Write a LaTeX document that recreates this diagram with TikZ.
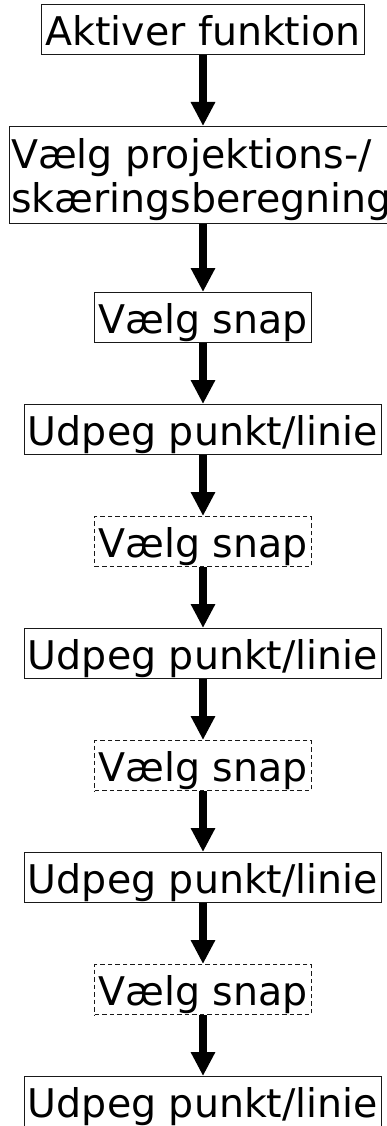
\documentclass[tikz,border=0pt]{standalone}
\usepackage{fontspec}
\setmainfont{DejaVu Sans}
\usetikzlibrary{arrows.meta}
\tikzset{
  boxbase/.style={draw=black!90, line width=1.2pt, font=\fontsize{39.5}{44}\selectfont, inner xsep=3.5pt},
  onebox/.style={boxbase, anchor=north, inner ysep=0pt, text height=41pt, text depth=9pt},
  optbox/.style={onebox, dash pattern=on 4.5pt off 3pt},
  flow/.style={line width=8pt, -{Triangle[width=23pt,length=24pt]}}
}
\begin{document}
\begin{tikzpicture}[x=1pt,y=1pt]
\useasboundingbox (0,0) rectangle (387,-1126);
\node[onebox] (b1) at (203,-4) {Aktiver funktion};
\node[boxbase, anchor=north west, align=left, inner ysep=0pt, inner xsep=1.5pt] (b2) at (9,-126) {\rule{0pt}{42pt}Vælg projektions-/\\skæringsberegning\rule[-11pt]{0pt}{11pt}};
\node[onebox] (b3) at (203,-292) {Vælg snap};
\node[onebox] (b4) at (203,-404) {Udpeg punkt/linie};
\node[optbox] (b5) at (203,-516) {Vælg snap};
\node[onebox] (b6) at (203,-628) {Udpeg punkt/linie};
\node[optbox] (b7) at (203,-740) {Vælg snap};
\node[onebox] (b8) at (203,-852) {Udpeg punkt/linie};
\node[optbox] (b9) at (203,-964) {Vælg snap};
\node[onebox] (b10) at (203,-1076) {Udpeg punkt/linie};
\draw[flow] (b1.south) -- (b1.south |- b2.north);
\draw[flow] (b3.north |- b2.south) -- (b3.north);
\draw[flow] (b3.south) -- (b4.north);
\draw[flow] (b4.south) -- (b5.north);
\draw[flow] (b5.south) -- (b6.north);
\draw[flow] (b6.south) -- (b7.north);
\draw[flow] (b7.south) -- (b8.north);
\draw[flow] (b8.south) -- (b9.north);
\draw[flow] (b9.south) -- (b10.north);
\end{tikzpicture}
\end{document}
